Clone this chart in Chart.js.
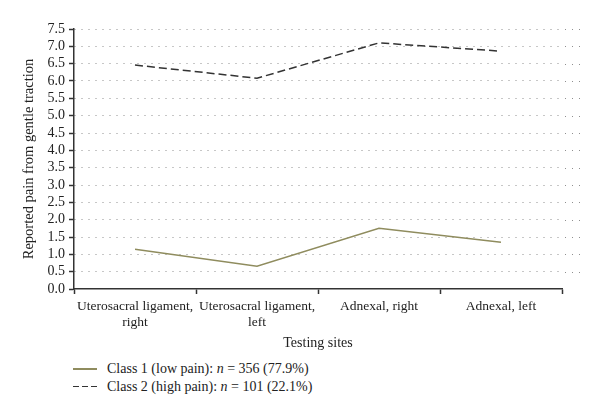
<!DOCTYPE html>
<html>
<head>
<meta charset="utf-8">
<script src="https://cdn.jsdelivr.net/npm/chart.js@4/dist/chart.umd.min.js"></script>
<style>
  body { margin: 0; background: #fff; }
  #wrap { position: relative; width: 600px; height: 416px; }
  #chart-box { position: absolute; left: 0; top: 0; width: 600px; height: 356px; }
  #legend {
    position: absolute; left: 73px; top: 360px;
    font-family: "Liberation Serif", "DejaVu Serif", serif;
    font-size: 14px; color: #222; line-height: 17.5px;
  }
  .row { display: flex; align-items: center; }
  .swatch { width: 24px; height: 1.5px; margin-right: 10px; }
  .solid { background: #8f8c5e; }
  .dashed { background: repeating-linear-gradient(90deg, #333 0 6px, transparent 6px 9px); }
</style>
</head>
<body>
<div id="wrap">
  <div id="chart-box"><canvas id="c"></canvas></div>
  <div id="legend">
    <div class="row"><span class="swatch solid"></span>Class 1 (low pain): <i>&nbsp;n&nbsp;</i> = 356 (77.9%)</div>
    <div class="row"><span class="swatch dashed"></span>Class 2 (high pain): <i>&nbsp;n&nbsp;</i> = 101 (22.1%)</div>
  </div>
</div>
<script>
const sites = [
  ["Uterosacral ligament,", "right"],
  ["Uterosacral ligament,", "left"],
  "Adnexal, right",
  "Adnexal, left",
];
const class1 = [1.15, 0.66, 1.75, 1.35];
const class2 = [6.46, 6.08, 7.1, 6.86];
const yTicks = [0, 0.5, 1, 1.5, 2, 2.5, 3, 3.5, 4, 4.5, 5, 5.5, 6, 6.5, 7, 7.5];

const serif = "'Liberation Serif', 'DejaVu Serif', serif";
const dotColor = "#8f8f8f";

// the dotted grid runs a bit past the end of the x axis in the original
const gridTail = {
  id: "gridTail",
  beforeDatasetsDraw(chart) {
    const { ctx, chartArea, scales } = chart;
    ctx.save();
    ctx.strokeStyle = dotColor;
    ctx.lineWidth = 1;
    ctx.setLineDash([1, 6]);
    yTicks.forEach((v) => {
      if (v === 0) return;
      const y = Math.round(scales.y.getPixelForValue(v)) + 0.5;
      ctx.beginPath();
      ctx.moveTo(chartArea.right + 3, y);
      ctx.lineTo(chartArea.right + 18, y);
      ctx.stroke();
    });
    ctx.restore();
  },
};

new Chart(document.getElementById("c"), {
  type: "line",
  data: {
    labels: sites,
    datasets: [
      {
        label: "Class 1",
        data: class1,
        borderColor: "#8f8c5e",
        borderWidth: 1.5,
        pointRadius: 0,
        tension: 0,
        fill: false,
      },
      {
        label: "Class 2",
        data: class2,
        borderColor: "#333",
        borderWidth: 1.5,
        borderDash: [8, 4],
        pointRadius: 0,
        tension: 0,
        fill: false,
      },
    ],
  },
  options: {
    responsive: true,
    maintainAspectRatio: false,
    animation: false,
    layout: { padding: { top: 29, right: 38, left: 0, bottom: 0 } },
    plugins: { legend: { display: false }, tooltip: { enabled: false } },
    scales: {
      x: {
        offset: true,
        grid: {
          offset: true,
          drawOnChartArea: false,
          drawTicks: true,
          tickLength: 5,
          tickColor: "#333",
          tickWidth: 1.5,
        },
        border: { color: "#333", width: 1.5 },
        ticks: {
          color: "#222",
          font: { family: serif, size: 13.5 },
          maxRotation: 0,
          autoSkip: false,
          padding: 4,
        },
        title: {
          display: true,
          text: "Testing sites",
          color: "#222",
          font: { family: serif, size: 14 },
          padding: { top: 6, bottom: 4 },
        },
        afterFit: (s) => { s.height = 356 - 289; },
      },
      y: {
        min: 0,
        max: 7.5,
        afterBuildTicks: (s) => { s.ticks = yTicks.map((v) => ({ value: v })); },
        grid: {
          color: (ctx) => (ctx.tick && ctx.tick.value === 0 ? "rgba(0,0,0,0)" : dotColor),
          lineWidth: 1,
          tickBorderDash: [],
          tickColor: "#333",
          tickWidth: 1.5,
          tickLength: 5,
        },
        border: { color: "#333", width: 1.5, dash: [1, 6] },
        ticks: {
          color: "#222",
          autoSkip: false,
          font: { family: serif, size: 14 },
          padding: 4,
          callback: (v) => Number(v).toFixed(1),
        },
        title: {
          display: true,
          text: "Reported pain from gentle traction",
          color: "#222",
          font: { family: serif, size: 14.5 },
          padding: { top: 20, bottom: 0 },
        },
        afterFit: (s) => { s.width = 74; },
      },
    },
  },
  plugins: [gridTail],
});
</script>
</body>
</html>
